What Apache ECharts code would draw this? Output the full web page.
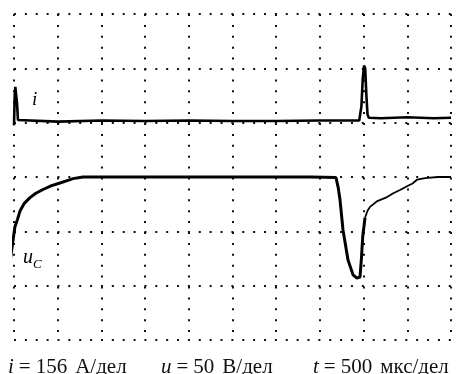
<!DOCTYPE html>
<html>
<head>
<meta charset="utf-8">
<title>i, u_C</title>
<script src="https://cdn.jsdelivr.net/npm/echarts@6/dist/echarts.min.js"></script>
<style>
    html, body { margin: 0; padding: 0; background: #fff; }
    #chart { width: 456px; height: 374px; }
</style>
</head>
<body>
<div id="chart"></div>
<script>
// время, мкс (500 мкс/дел), значения в делениях экрана
const tCurrent = [0, 8, 15, 25, 35, 45, 60, 500, 1000, 1500, 2000, 2500, 3000, 3500, 3950, 3975, 3990, 4005, 4018, 4032, 4045, 4060, 4200, 4500, 4800, 5000];
const iCurrent = [3.95, 4.5, 4.66, 4.64, 4.35, 4.05, 4.03, 4.02, 4.04, 4.03, 4.04, 4.03, 4.03, 4.04, 4.04, 4.3, 4.8, 5.05, 5.0, 4.5, 4.15, 4.09, 4.08, 4.1, 4.08, 4.09];

// u_C: заряд и провал (толстая часть)
const tVolt = [-45, 10, 40, 70, 120, 183, 250, 332, 430, 526, 600, 675, 790, 1500, 2500, 3400, 3684, 3710, 3730, 3764, 3822, 3879, 3924, 3959, 3975, 3990, 4016];
const uVolt = [1.44, 2.08, 2.22, 2.38, 2.52, 2.62, 2.7, 2.77, 2.84, 2.89, 2.93, 2.97, 3.0, 3.0, 3.0, 3.0, 2.99, 2.8, 2.58, 2.03, 1.47, 1.2, 1.14, 1.16, 1.5, 1.9, 2.25];

// восстановление после провала (тонкая линия)
const tRecov = [4016, 4045, 4073, 4150, 4268, 4340, 4416, 4508, 4560, 4611, 4703, 4850, 5000];
const uRecov = [2.25, 2.38, 2.45, 2.55, 2.63, 2.7, 2.76, 2.84, 2.88, 2.95, 2.98, 3.0, 3.0];

const zip = (xs, ys) => xs.map((x, k) => [x, ys[k]]);

const serif = '"Liberation Serif", "DejaVu Serif", serif';

const dots = (gap) => ({
    show: true,
    lineStyle: { color: '#111', width: 2, type: [2, gap] }
});

// подпись масштаба: курсивная буква, "=" с отступами
const scaleText = (left, sym, num, unit) => ({
    type: 'text', left, top: 357,
    style: {
        text: '{m|' + sym + '}{eq|=}{n|' + num + '}' + unit,
        fontFamily: serif, fontSize: 21, fill: '#111',
        rich: {
            m: { fontFamily: serif, fontStyle: 'italic', fontSize: 21 },
            eq: { fontFamily: serif, fontSize: 21, padding: [0, 5] },
            n: { fontFamily: serif, fontSize: 21, padding: [0, 8, 0, 0] }
        }
    }
});

const chart = echarts.init(document.getElementById('chart'));

chart.setOption({
    animation: false,
    backgroundColor: '#fff',
    grid: { left: 14, right: 5, top: 14, bottom: 34 },
    xAxis: {
        type: 'value',
        min: 0,
        max: 5000,
        interval: 500,
        axisLine: { show: false },
        axisTick: { show: false },
        axisLabel: { show: false },
        splitLine: dots(8.9)
    },
    yAxis: {
        type: 'value',
        min: 0,
        max: 6,
        interval: 1,
        axisLine: { show: false },
        axisTick: { show: false },
        axisLabel: { show: false },
        splitLine: dots(8.87)
    },
    series: [
        {
            name: 'i',
            type: 'line',
            symbol: 'none',
            clip: false,
            lineStyle: { color: '#000', width: 2.6 },
            data: zip(tCurrent, iCurrent)
        },
        {
            name: 'uC',
            type: 'line',
            symbol: 'none',
            clip: false,
            lineStyle: { color: '#000', width: 3 },
            data: zip(tVolt, uVolt)
        },
        {
            name: 'uC2',
            type: 'line',
            symbol: 'none',
            clip: false,
            lineStyle: { color: '#000', width: 1.8 },
            data: zip(tRecov, uRecov)
        }
    ],
    graphic: [
        // подписи кривых
        {
            type: 'text', left: 32, top: 90,
            style: { text: 'i', font: 'italic 19px ' + serif, fill: '#000' }
        },
        {
            type: 'text', left: 23, top: 248,
            style: {
                text: '{u|u}{c|C}',
                fill: '#000',
                rich: {
                    u: { fontFamily: serif, fontStyle: 'italic', fontSize: 20, verticalAlign: 'top' },
                    c: { fontFamily: serif, fontStyle: 'italic', fontSize: 13, padding: [10, 0, 0, 0] }
                }
            }
        },
        scaleText(8, 'i', '156', 'А/дел'),
        scaleText(161, 'u', '50', 'В/дел'),
        scaleText(313, 't', '500', 'мкс/дел')
    ]
});
</script>
</body>
</html>
